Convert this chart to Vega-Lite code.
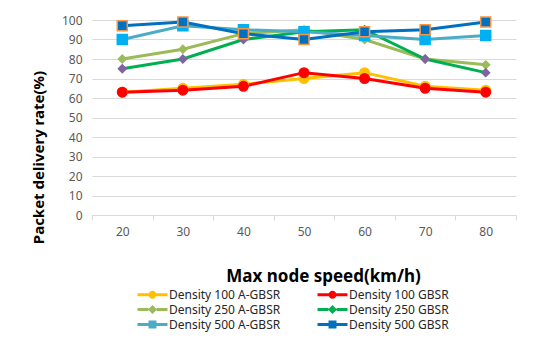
{
  "$schema": "https://vega.github.io/schema/vega-lite/v6.json",
  "autosize": "none",
  "width": 424,
  "height": 195,
  "padding": {"left": 92, "top": 20, "right": 34, "bottom": 128},
  "background": "white",
  "config": {
    "font": "Noto Sans",
    "view": {"stroke": null}
  },
  "data": {
    "values": [
      {"speed": "20", "series": "Density 100 A-GBSR", "value": 63},
      {"speed": "30", "series": "Density 100 A-GBSR", "value": 65},
      {"speed": "40", "series": "Density 100 A-GBSR", "value": 67},
      {"speed": "50", "series": "Density 100 A-GBSR", "value": 70},
      {"speed": "60", "series": "Density 100 A-GBSR", "value": 73},
      {"speed": "70", "series": "Density 100 A-GBSR", "value": 66},
      {"speed": "80", "series": "Density 100 A-GBSR", "value": 64},
      {"speed": "20", "series": "Density 100 GBSR", "value": 63},
      {"speed": "30", "series": "Density 100 GBSR", "value": 64},
      {"speed": "40", "series": "Density 100 GBSR", "value": 66},
      {"speed": "50", "series": "Density 100 GBSR", "value": 73},
      {"speed": "60", "series": "Density 100 GBSR", "value": 70},
      {"speed": "70", "series": "Density 100 GBSR", "value": 65},
      {"speed": "80", "series": "Density 100 GBSR", "value": 63},
      {"speed": "20", "series": "Density 250 A-GBSR", "value": 80},
      {"speed": "30", "series": "Density 250 A-GBSR", "value": 85},
      {"speed": "40", "series": "Density 250 A-GBSR", "value": 93},
      {"speed": "50", "series": "Density 250 A-GBSR", "value": 95},
      {"speed": "60", "series": "Density 250 A-GBSR", "value": 90},
      {"speed": "70", "series": "Density 250 A-GBSR", "value": 80},
      {"speed": "80", "series": "Density 250 A-GBSR", "value": 77},
      {"speed": "20", "series": "Density 250 GBSR", "value": 75},
      {"speed": "30", "series": "Density 250 GBSR", "value": 80},
      {"speed": "40", "series": "Density 250 GBSR", "value": 90},
      {"speed": "50", "series": "Density 250 GBSR", "value": 94},
      {"speed": "60", "series": "Density 250 GBSR", "value": 95},
      {"speed": "70", "series": "Density 250 GBSR", "value": 80},
      {"speed": "80", "series": "Density 250 GBSR", "value": 73},
      {"speed": "20", "series": "Density 500 A-GBSR", "value": 90},
      {"speed": "30", "series": "Density 500 A-GBSR", "value": 97},
      {"speed": "40", "series": "Density 500 A-GBSR", "value": 95},
      {"speed": "50", "series": "Density 500 A-GBSR", "value": 94},
      {"speed": "60", "series": "Density 500 A-GBSR", "value": 92},
      {"speed": "70", "series": "Density 500 A-GBSR", "value": 90},
      {"speed": "80", "series": "Density 500 A-GBSR", "value": 92},
      {"speed": "20", "series": "Density 500 GBSR", "value": 97},
      {"speed": "30", "series": "Density 500 GBSR", "value": 99},
      {"speed": "40", "series": "Density 500 GBSR", "value": 93},
      {"speed": "50", "series": "Density 500 GBSR", "value": 90},
      {"speed": "60", "series": "Density 500 GBSR", "value": 94},
      {"speed": "70", "series": "Density 500 GBSR", "value": 95},
      {"speed": "80", "series": "Density 500 GBSR", "value": 99}
    ]
  },
  "encoding": {
    "x": {
      "field": "speed",
      "type": "ordinal",
      "bandPosition": 0.5,
      "scale": {"type": "band", "paddingInner": 0, "paddingOuter": 0},
      "axis": {
        "title": "Max node speed(km/h)",
        "titleFontSize": 17,
        "titleFontWeight": "bold",
        "titleColor": "#000000",
        "titleX": 231,
        "titleY": 61,
        "titleBaseline": "middle",
        "titleAlign": "center",
        "labelAngle": 0,
        "labelFontSize": 12,
        "labelColor": "#595959",
        "labelPadding": 6,
        "tickBand": "extent",
        "tickColor": "#D9D9D9",
        "tickSize": 5,
        "domainColor": "#D9D9D9",
        "grid": false
      }
    },
    "y": {
      "field": "value",
      "type": "quantitative",
      "scale": {"domain": [0, 100]},
      "axis": {
        "title": "Packet delivery rate(%)",
        "titleFontSize": 15,
        "titleFontWeight": "bold",
        "titleColor": "#000000",
        "titleX": -54,
        "titleY": 137,
        "titleBaseline": "middle",
        "titleAlign": "center",
        "values": [0, 10, 20, 30, 40, 50, 60, 70, 80, 90, 100],
        "labelFontSize": 12,
        "labelColor": "#595959",
        "labelPadding": 10,
        "ticks": false,
        "domain": false,
        "gridColor": "#D9D9D9"
      }
    }
  },
  "layer": [
    {
      "mark": {"type": "line", "strokeWidth": 3},
      "encoding": {
        "color": {
          "field": "series",
          "type": "nominal",
          "scale": {
            "domain": ["Density 100 A-GBSR", "Density 100 GBSR", "Density 250 A-GBSR", "Density 250 GBSR", "Density 500 A-GBSR", "Density 500 GBSR"],
            "range": ["#FFC000", "#FF0000", "#9BBB59", "#00B050", "#4BACC6", "#0070C0"]
          },
          "legend": {
            "title": null,
            "orient": "none",
            "legendX": 53,
            "legendY": 267,
            "columns": 2,
            "direction": "horizontal",
            "columnPadding": 36,
            "rowPadding": 1,
            "labelFontSize": 12,
            "labelColor": "#262626",
            "labelOffset": 9,
            "symbolSize": 225,
            "encode": {
              "symbols": {
                "update": {
                  "shape": {"signal": "indexof(datum.value, '100') >= 0 ? 'M-2,-0.2H-0.5V0.2H-2Z M0.5,-0.2H2V0.2H0.5Z M0.53,0A0.53,0.53,0,1,1,-0.53,0A0.53,0.53,0,1,1,0.53,0Z' : (indexof(datum.value, '250') >= 0 ? 'M-2,-0.2H-0.55V0.2H-2Z M0.55,-0.2H2V0.2H0.55Z M0,-0.6L0.6,0L0,0.6L-0.6,0Z' : 'M-2,-0.2H-0.53V0.2H-2Z M0.53,-0.2H2V0.2H0.53Z M-0.53,-0.53H0.53V0.53H-0.53Z')"},
                  "fill": {"scale": "color", "field": "value"},
                  "stroke": {"value": "transparent"},
                  "strokeWidth": {"value": 0},
                  "opacity": {"value": 1}
                }
              }
            }
          }
        }
      }
    },
    {
      "mark": {"type": "point", "filled": true, "opacity": 1, "strokeWidth": 1.5},
      "encoding": {
        "shape": {
          "condition": [
            {"test": "indexof(datum.series, '100') >= 0", "value": "circle"},
            {"test": "indexof(datum.series, '250') >= 0", "value": "diamond"}
          ],
          "value": "square"
        },
        "fill": {
          "condition": [
            {"test": "datum.series === 'Density 100 A-GBSR'", "value": "#FFC000"},
            {"test": "datum.series === 'Density 100 GBSR'", "value": "#FF0000"},
            {"test": "datum.series === 'Density 250 A-GBSR'", "value": "#9BBB59"},
            {"test": "datum.series === 'Density 250 GBSR'", "value": "#8064A2"},
            {"test": "datum.series === 'Density 500 A-GBSR'", "value": "#00B0F0"}
          ],
          "value": "#0070C0"
        },
        "stroke": {
          "condition": [
            {"test": "datum.series === 'Density 100 A-GBSR'", "value": "#FFC000"},
            {"test": "datum.series === 'Density 100 GBSR'", "value": "#FF0000"},
            {"test": "datum.series === 'Density 250 A-GBSR'", "value": "#9BBB59"},
            {"test": "datum.series === 'Density 250 GBSR'", "value": "#8064A2"},
            {"test": "datum.series === 'Density 500 A-GBSR'", "value": "#00B0F0"}
          ],
          "value": "#F79646"
        },
        "size": {
          "condition": [
            {"test": "indexof(datum.series, '100') >= 0", "value": 90},
            {"test": "indexof(datum.series, '250') >= 0", "value": 60}
          ],
          "value": 100
        }
      }
    }
  ]
}
